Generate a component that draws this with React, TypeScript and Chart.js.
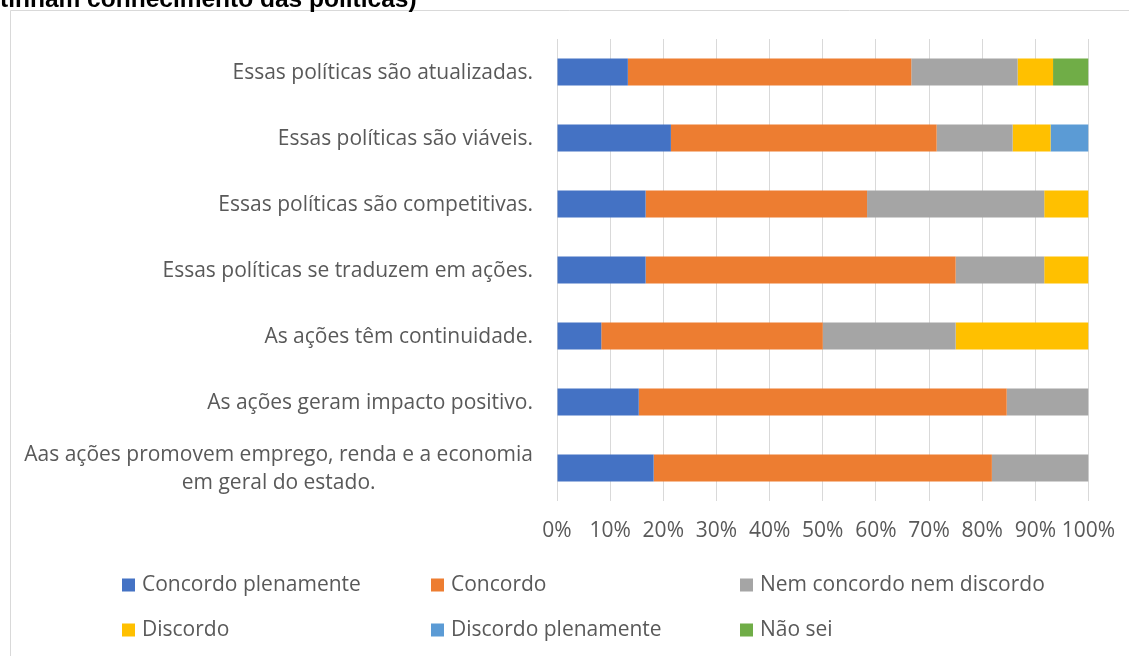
import React, { useEffect, useRef } from "react";
import { Chart, registerables } from "chart.js";

Chart.register(...registerables);

const categories: (string | string[])[] = [
  "Essas políticas são atualizadas.",
  "Essas políticas são viáveis.",
  "Essas políticas são competitivas.",
  "Essas políticas se traduzem em ações.",
  "As ações têm continuidade.",
  "As ações geram impacto positivo.",
  ["Aas ações promovem emprego, renda e a economia", "em geral do estado."],
];

const seriesNames = [
  "Concordo plenamente",
  "Concordo",
  "Nem concordo nem discordo",
  "Discordo",
  "Discordo plenamente",
  "Não sei",
];

const concordoPlenamente = [13.33, 21.43, 16.67, 16.67, 8.33, 15.38, 18.18];
const concordo = [53.33, 50.0, 41.67, 58.33, 41.67, 69.23, 63.64];
const nemConcordoNemDiscordo = [20.0, 14.29, 33.33, 16.67, 25.0, 15.38, 18.18];
const discordo = [6.67, 7.14, 8.33, 8.33, 25.0, 0, 0];
const discordoPlenamente = [0, 7.14, 0, 0, 0, 0, 0];
const naoSei = [6.67, 0, 0, 0, 0, 0, 0];

const xTickLabels = ["0%", "10%", "20%", "30%", "40%", "50%", "60%", "70%", "80%", "90%", "100%"];

const titleFragment = "tinham conhecimento das políticas)";

const colors = ["#4472C4", "#ED7D31", "#A5A5A5", "#FFC000", "#5B9BD5", "#70AD47"];

const FONT = '"Open Sans", "Noto Sans", sans-serif';
const FONT_SIZE = 21;
const TEXT_COLOR = "#595959";

const framePlugin = {
  id: "frame",
  beforeDraw(chart: any) {
    const ctx = chart.ctx;
    ctx.save();
    ctx.fillStyle = "#ffffff";
    ctx.fillRect(0, 0, chart.width, chart.height);
    ctx.strokeStyle = "#D9D9D9";
    ctx.lineWidth = 1;
    ctx.beginPath();
    ctx.moveTo(10.5, chart.height);
    ctx.lineTo(10.5, 10.5);
    ctx.lineTo(chart.width, 10.5);
    ctx.stroke();
    ctx.fillStyle = "#000000";
    ctx.font = 'bold 24.5px "Liberation Sans", Arial, sans-serif';
    ctx.textBaseline = "alphabetic";
    ctx.textAlign = "left";
    ctx.fillText(titleFragment, 0, 7);
    ctx.restore();
  },
};

const labelsPlugin = {
  id: "catLabels",
  afterDraw(chart: any) {
    const ctx = chart.ctx;
    const yScale = chart.scales.y;
    const rightEdge = 533;
    const lineH = 28;
    ctx.save();
    ctx.font = `${FONT_SIZE}px ${FONT}`;
    ctx.fillStyle = TEXT_COLOR;
    ctx.textBaseline = "middle";
    ctx.textAlign = "center";
    chart.data.labels.forEach((lab: string | string[], i: number) => {
      const lines = Array.isArray(lab) ? lab : [lab];
      const maxW = Math.max(...lines.map((l) => ctx.measureText(l).width));
      const cx = rightEdge - maxW / 2;
      const cy = yScale.getPixelForValue(i) + 1;
      const startY = cy - ((lines.length - 1) * lineH) / 2;
      lines.forEach((l, j) => ctx.fillText(l, cx, startY + j * lineH));
    });
    ctx.restore();
  },
};

const legendPlugin = {
  id: "gridLegend",
  afterDraw(chart: any) {
    const ctx = chart.ctx;
    const colX = [122, 431, 740];
    const rowY = [585, 630];
    const box = 13;
    ctx.save();
    ctx.font = `${FONT_SIZE}px ${FONT}`;
    ctx.textBaseline = "middle";
    ctx.textAlign = "left";
    chart.data.datasets.forEach((ds: any, i: number) => {
      const x = colX[i % 3];
      const y = rowY[Math.floor(i / 3)];
      ctx.fillStyle = ds.backgroundColor;
      ctx.fillRect(x, y - box / 2, box, box);
      ctx.fillStyle = TEXT_COLOR;
      ctx.fillText(ds.label, x + box + 7, y);
    });
    ctx.restore();
  },
};

export default function App() {
  const ref = useRef<HTMLCanvasElement | null>(null);

  useEffect(() => {
    if (!ref.current) return;
    const seriesData = [
      concordoPlenamente,
      concordo,
      nemConcordoNemDiscordo,
      discordo,
      discordoPlenamente,
      naoSei,
    ];
    const chart = new Chart(ref.current, {
      type: "bar",
      data: {
        labels: categories as any,
        datasets: seriesNames.map((name, i) => ({
          label: name,
          data: seriesData[i],
          backgroundColor: colors[i],
          borderWidth: 0,
          barPercentage: 0.41,
          categoryPercentage: 1,
        })),
      },
      options: {
        indexAxis: "y",
        responsive: false,
        maintainAspectRatio: false,
        animation: false,
        events: [],
        layout: { padding: { left: 557, right: 40.5, top: 39, bottom: 100 } },
        plugins: {
          legend: { display: false },
          tooltip: { enabled: false },
          title: { display: false },
        },
        scales: {
          x: {
            stacked: true,
            min: 0,
            max: 100,
            ticks: {
              stepSize: 10,
              color: TEXT_COLOR,
              font: { family: FONT, size: FONT_SIZE },
              padding: 17,
              maxRotation: 0,
              autoSkip: false,
              callback: (_v: any, i: number) => xTickLabels[i],
            },
            grid: { color: "#D9D9D9", lineWidth: 1, drawTicks: false },
            border: { display: false },
            afterFit: (scale: any) => {
              scale.height = 55;
              scale.paddingLeft = 0;
              scale.paddingRight = 0;
            },
          },
          y: {
            stacked: true,
            display: false,
            grid: { display: false },
          },
        },
      },
      plugins: [framePlugin, labelsPlugin, legendPlugin],
    });
    return () => chart.destroy();
  }, []);

  return (
    <div style={{ position: "absolute", left: 0, top: 0, width: 1129, height: 656, background: "#fff" }}>
      <canvas ref={ref} width={1129} height={656} style={{ display: "block", width: 1129, height: 656 }} />
    </div>
  );
}
